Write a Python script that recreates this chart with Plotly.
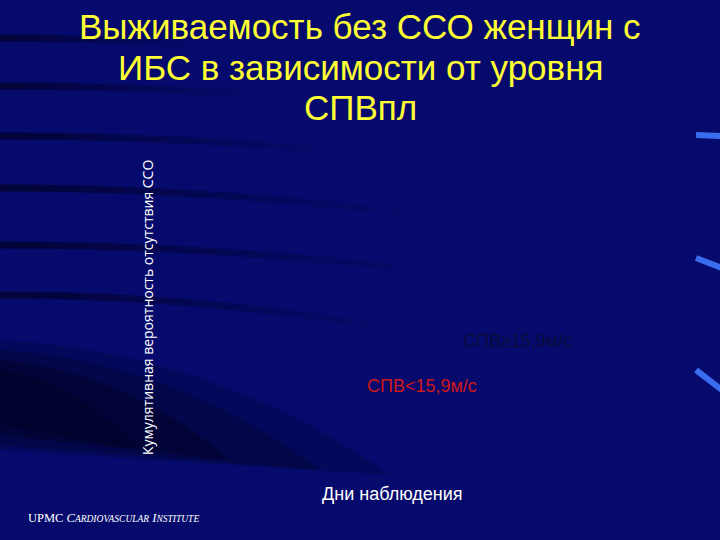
import plotly.graph_objects as go

# Slide text
title_lines = ['Выживаемость без ССО женщин с', 'ИБС в зависимости от уровня', 'СПВпл']
y_title = 'Кумулятивная вероятность отсутствия ССО'
x_title = 'Дни наблюдения'
group_labels = ['СПВ≥15,9м/с', 'СПВ<15,9м/с']
group_colors = ['#0a0a3c', '#d01818']
group_pos = [(517, 341), (422, 386)]  # label centres, px

W, H = 720, 540


def px(x, y):
    return x / W, 1 - y / H


fig = go.Figure()
fig.add_trace(go.Scatter(x=[], y=[], mode='lines', showlegend=False))

shapes = []

# dark streaks of the slide background, fading to the right
streaks = [
    (38, 45, 200),
    (86, 95, 260),
    (136, 150, 330),
    (188, 214, 413),
    (245, 272, 436),
    (295, 328, 390),
]
nseg = 10
for y_start, y_end, x_end in streaks:
    for k in range(nseg):
        t0, t1 = k / nseg, (k + 1) / nseg
        xa, xb = x_end * t0, x_end * t1
        ya = y_start + (y_end - y_start) * t0 ** 2
        yb = y_start + (y_end - y_start) * t1 ** 2
        a, b = px(xa, ya), px(xb, yb)
        alpha = 0.6 * (1 - t0) ** 1.2
        shapes.append(dict(type='line', xref='paper', yref='paper', x0=a[0], y0=a[1], x1=b[0], y1=b[1],
                           line=dict(color='rgba(0,0,25,{:.2f})'.format(alpha), width=7), layer='below'))

# big dark band bottom-left, in layers so it fades out
for top, bot, xe, al in [(340, 450, 390, 0.2), (350, 445, 320, 0.25), (360, 435, 230, 0.3), (370, 425, 140, 0.3)]:
    p0, p1, p2, p3 = px(0, top), px(xe * 0.55, top + 12), px(xe, bot + 25), px(0, bot)
    shapes.append(dict(type='path', xref='paper', yref='paper',
                       path='M {} {} Q {} {} {} {} L {} {} Z'.format(p0[0], p0[1], p1[0], p1[1],
                                                                   p2[0], p2[1], p3[0], p3[1]),
                       fillcolor='rgba(0,0,20,{})'.format(al), line=dict(width=0), layer='below'))

# small bright blue ticks on right edge
for y0, y1 in [(135, 136), (258, 268), (370, 390)]:
    a = px(696, y0)
    b = px(722, y1)
    shapes.append(dict(type='line', xref='paper', yref='paper', x0=a[0], y0=a[1], x1=b[0], y1=b[1],
                       line=dict(color='#3a6cf0', width=6)))


def note(xp, yp, text, font, **kw):
    x, y = px(xp, yp)
    d = dict(x=x, y=y, xref='paper', yref='paper', text=text, showarrow=False,
             xanchor='center', yanchor='middle', font=font)
    d.update(kw)
    return d


annotations = []
for i, line in enumerate(title_lines):
    annotations.append(note(360, 26 + i * 41, line,
                            dict(family='Liberation Sans', size=35, color='#ffff33')))

annotations.append(note(147, 308, y_title, dict(family='Open Sans', size=14, color='white'), textangle=-90))
annotations.append(note(393, 494, x_title, dict(family='Liberation Sans', size=18, color='white')))

for lab, col, (gx, gy) in zip(group_labels, group_colors, group_pos):
    annotations.append(note(gx, gy, lab, dict(family='Liberation Sans', size=18, color=col)))

sc = "<span style='font-size:9.5px'>"
annotations.append(note(26, 518, 'UPMC <i>C' + sc + 'ARDIOVASCULAR</span> I' + sc + 'NSTITUTE</span></i>',
                        dict(family='Liberation Serif', size=12.5, color='white'), xanchor='left'))

fig.update_layout(
    width=W, height=H,
    margin=dict(l=0, r=0, t=0, b=0),
    paper_bgcolor='#060a6c',
    plot_bgcolor='rgba(0,0,0,0)',
    xaxis=dict(visible=False, domain=[0.22, 0.84]),
    yaxis=dict(visible=False, domain=[0.13, 0.74]),
    shapes=shapes,
    annotations=annotations,
)

fig.write_html('out.html', config={'displayModeBar': False},
               post_script="document.body.style.margin='0';")
